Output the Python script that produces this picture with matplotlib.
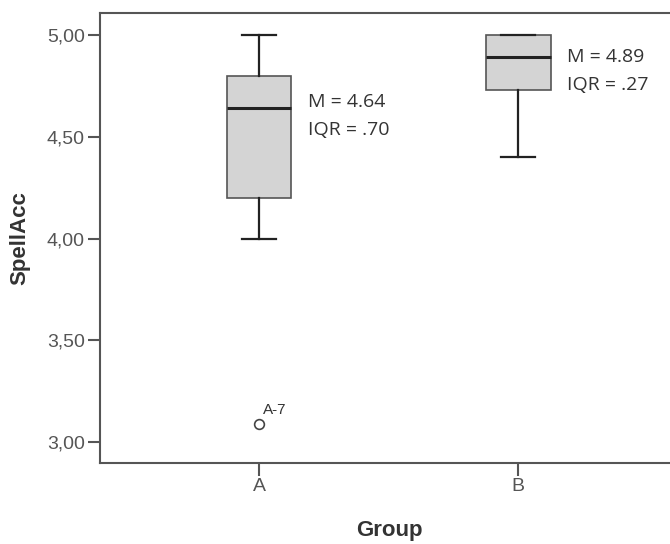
import matplotlib
matplotlib.use("Agg")
import matplotlib.pyplot as plt

# Boxplot summary values
groups = ["A", "B"]
medians = [4.64, 4.89]
q1 = [4.20, 4.73]
q3 = [4.80, 5.00]
whisker_lo = [4.00, 4.40]
whisker_hi = [5.00, 5.00]
fliers = [[3.09], []]
flier_labels = [["A-7"], []]
annot_m = ["M = 4.64", "M = 4.89"]
annot_iqr = ["IQR = .70", "IQR = .27"]
annot_y = [4.67, 4.89]
yticks = [3.0, 3.5, 4.0, 4.5, 5.0]

fig = plt.figure(figsize=(6.7, 5.44), dpi=100)
ax = fig.add_axes([100 / 670, 81 / 544, 578 / 670, 450 / 544])

stats = []
for i, g in enumerate(groups):
    stats.append({"label": g, "med": medians[i], "q1": q1[i], "q3": q3[i],
                  "whislo": whisker_lo[i], "whishi": whisker_hi[i],
                  "fliers": fliers[i]})

positions = list(range(1, len(groups) + 1))
ax.bxp(stats, positions=positions, widths=0.25, patch_artist=True,
       boxprops=dict(facecolor="#d4d4d4", edgecolor="#555555", linewidth=1.2),
       medianprops=dict(color="#222222", linewidth=2.2),
       whiskerprops=dict(color="#222222", linewidth=1.6),
       capprops=dict(color="#222222", linewidth=1.6),
       capwidths=0.13,
       flierprops=dict(marker="o", markerfacecolor="white", markeredgecolor="#444444",
                       markersize=7, markeredgewidth=1.2))

# flier labels
for i, pos in enumerate(positions):
    for v, lab in zip(fliers[i], flier_labels[i]):
        ax.annotate(lab, (pos, v), xytext=(3, 7), textcoords="offset points",
                    fontsize=11, color="#333333", family="Liberation Sans")

# M / IQR annotations
for i, pos in enumerate(positions):
    ax.text(pos + 0.19, annot_y[i], annot_m[i], fontsize=14, color="#333333",
            family="Open Sans", va="center", ha="left")
    ax.annotate(annot_iqr[i], (pos + 0.19, annot_y[i]), xytext=(0, -20),
                textcoords="offset points", fontsize=14, color="#333333",
                family="Open Sans", va="center", ha="left")

ax.set_xlim(0.386, 2.617)
ax.set_ylim(2.897, 5.108)
ax.set_yticks(yticks)
ax.set_yticklabels([f"{t:.2f}".replace(".", ",") for t in yticks])
ax.set_xticks(positions)
ax.set_xticklabels(groups)

for s in ax.spines.values():
    s.set_color("#555555")
    s.set_linewidth(1.5)
ax.spines["right"].set_visible(False)

ax.tick_params(axis="both", length=9, width=1.5, color="#555555",
               labelcolor="#555555", labelsize=14, pad=2)
for lab in ax.get_xticklabels() + ax.get_yticklabels():
    lab.set_family("Liberation Sans")

ax.set_ylabel("SpellAcc", fontsize=16, fontweight="bold", color="#333333",
              family="Liberation Sans", labelpad=12)
ax.set_xlabel("Group", fontsize=16, fontweight="bold", color="#333333",
              family="Liberation Sans", labelpad=18)

fig.savefig("out.png", dpi=100)
